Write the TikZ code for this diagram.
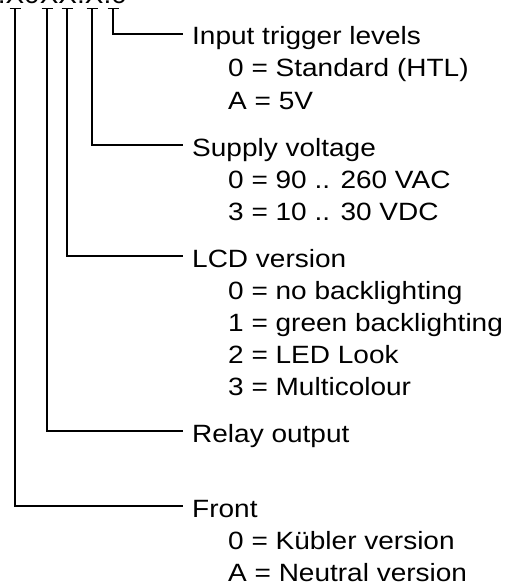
\documentclass[tikz,border=0pt]{standalone}
\usepackage{fontspec}
\setmainfont{Liberation Sans}[FakeStretch=1.12]
\usetikzlibrary{arrows.meta,calc}

\tikzset{
  head/.style={anchor=base west, inner xsep=9pt, inner ysep=0pt, font=\fontsize{25}{32}\selectfont},
  opt/.style={anchor=base west, inner sep=0pt, font=\fontsize{25}{32}\selectfont},
  conn/.style={line width=1.2pt, {Bar[width=11pt]}-}
}

\begin{document}
\begin{tikzpicture}[x=1pt,y=-1pt]
    \useasboundingbox (0,0) rectangle (512,586);
    \def\hx{183}
    \def\ox{228}
    % code on top, only its lower edge is shown
    \node[opt] (code) at (-18,4) {6.X0XX.X.0};
    % tick tops under the code
    \coordinate (tf) at (15,8);
    \coordinate (tr) at (47,8);
    \coordinate (tl) at (67,8);
    \coordinate (ts) at (92,8);
    \coordinate (ti) at (113,8);
    % headings
    \node[head] (hi) at (\hx,45)  {Input trigger levels};
    \node[head] (hs) at (\hx,156) {Supply voltage};
    \node[head] (hl) at (\hx,267) {LCD version};
    \node[head] (hr) at (\hx,442) {Relay output};
    \node[head] (hf) at (\hx,517) {Front};
    % options
    \node[opt] (oi1) at (\ox,77)  {0 = Standard (HTL)};
    \node[opt] (oi2) at (\ox,109) {A = 5V};
    \node[opt] (os1) at (\ox,188) {0 = 90 .. 260 VAC};
    \node[opt] (os2) at (\ox,220) {3 = 10 .. 30 VDC};
    \node[opt] (ol1) at (\ox,299) {0 = no backlighting};
    \node[opt] (ol2) at (\ox,331) {1 = green backlighting};
    \node[opt] (ol3) at (\ox,363) {2 = LED Look};
    \node[opt] (ol4) at (\ox,395) {3 = Multicolour};
    \node[opt] (of1) at (\ox,549) {0 = Kübler version};
    \node[opt] (of2) at (\ox,581) {A = Neutral version};
    % connectors
    \draw[conn] (ti) |- ([yshift=11pt]hi.base west);
    \draw[conn] (ts) |- ([yshift=11pt]hs.base west);
    \draw[conn] (tl) |- ([yshift=11pt]hl.base west);
    \draw[conn] (tr) |- ([yshift=11pt]hr.base west);
    \draw[conn] (tf) |- ([yshift=11pt]hf.base west);
\end{tikzpicture}
\end{document}
